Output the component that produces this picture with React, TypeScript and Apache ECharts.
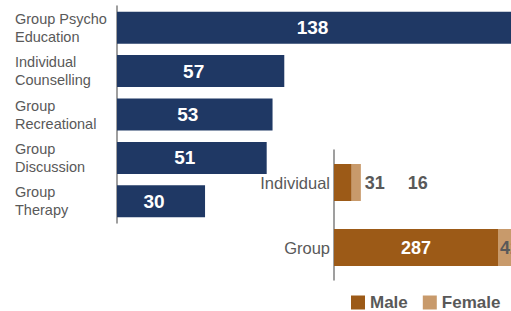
import React, { useEffect, useRef } from "react";
import * as echarts from "echarts";

const activityCats = ["Group Psycho\nEducation", "Individual\nCounselling", "Group\nRecreational", "Group\nDiscussion", "Group\nTherapy"];
const activityVals = [138, 57, 53, 51, 30];

const modeCats = ["Individual", "Group"];
const maleVals = [31, 287];
const femaleVals = [16, 42];

const FONT = "'Liberation Sans', Arial, sans-serif";
const GRAY = "#595959";

export default function App() {
  const ref = useRef<HTMLDivElement>(null);
  useEffect(() => {
    if (!ref.current) return;
    const chart = echarts.init(ref.current, null, { renderer: "svg" });
    const activityMax = Math.max(...activityVals);
    const modeMax = Math.max(...maleVals.map((m, i) => m + femaleVals[i]));
    chart.setOption({
      animation: false,
      textStyle: { fontFamily: FONT },
      legend: {
        data: ["Male", "Female"],
        left: 351,
        top: 294,
        itemWidth: 14,
        itemHeight: 14,
        itemGap: 15,
        icon: "rect",
        textStyle: { color: GRAY, fontSize: 17, fontWeight: "bold", fontFamily: FONT },
        padding: 0,
      },
      grid: [
        { left: 117, top: 6, width: 405, height: 217, outerBoundsMode: "none", containLabel: false },
        { left: 334, top: 150, width: 188, height: 130, outerBoundsMode: "none", containLabel: false },
      ],
      xAxis: [
        { gridIndex: 0, type: "value", min: 0, max: activityMax, show: false },
        { gridIndex: 1, type: "value", min: 0, max: modeMax, show: false },
      ],
      yAxis: [
        {
          gridIndex: 0,
          type: "category",
          data: activityCats,
          inverse: true,
          axisTick: { show: false },
          axisLine: { lineStyle: { color: "#7f7f7f", width: 1.5 } },
          axisLabel: { align: "left", margin: 102, color: GRAY, fontSize: 14.5, lineHeight: 18, fontFamily: FONT },
        },
        {
          gridIndex: 1,
          type: "category",
          data: modeCats,
          inverse: true,
          axisTick: { show: false },
          axisLine: { lineStyle: { color: "#7f7f7f", width: 1.5 } },
          axisLabel: { margin: 4, color: GRAY, fontSize: 16.5, fontFamily: FONT },
        },
      ],
      series: [
        {
          type: "bar",
          xAxisIndex: 0,
          yAxisIndex: 0,
          data: activityVals,
          barWidth: 32,
          itemStyle: { color: "#1f3864" },
          label: { show: true, position: "inside", offset: [-7, 0], color: "#fff", fontSize: 19, fontWeight: "bold", fontFamily: FONT },
        },
        {
          name: "Male",
          type: "bar",
          stack: "g",
          xAxisIndex: 1,
          yAxisIndex: 1,
          barWidth: 37,
          itemStyle: { color: "#9c5a17" },
          data: maleVals.map((v, i) =>
            i === 0
              ? { value: v, label: { position: "right", distance: 13, color: GRAY } }
              : { value: v }
          ),
          label: { show: true, position: "inside", color: "#fff", fontSize: 18, fontWeight: "bold", fontFamily: FONT },
        },
        {
          name: "Female",
          type: "bar",
          stack: "g",
          xAxisIndex: 1,
          yAxisIndex: 1,
          barWidth: 37,
          itemStyle: { color: "#c89a6b" },
          data: femaleVals.map((v, i) =>
            i === 0
              ? { value: v, label: { position: "right", distance: 47 } }
              : { value: v }
          ),
          label: { show: true, position: "inside", color: GRAY, fontSize: 18, fontWeight: "bold", fontFamily: FONT },
        },
      ],
    });
    return () => chart.dispose();
  }, []);
  return (
    <div
      ref={ref}
      style={{ position: "absolute", left: 0, top: 0, width: 511, height: 311, background: "#fff" }}
    />
  );
}
